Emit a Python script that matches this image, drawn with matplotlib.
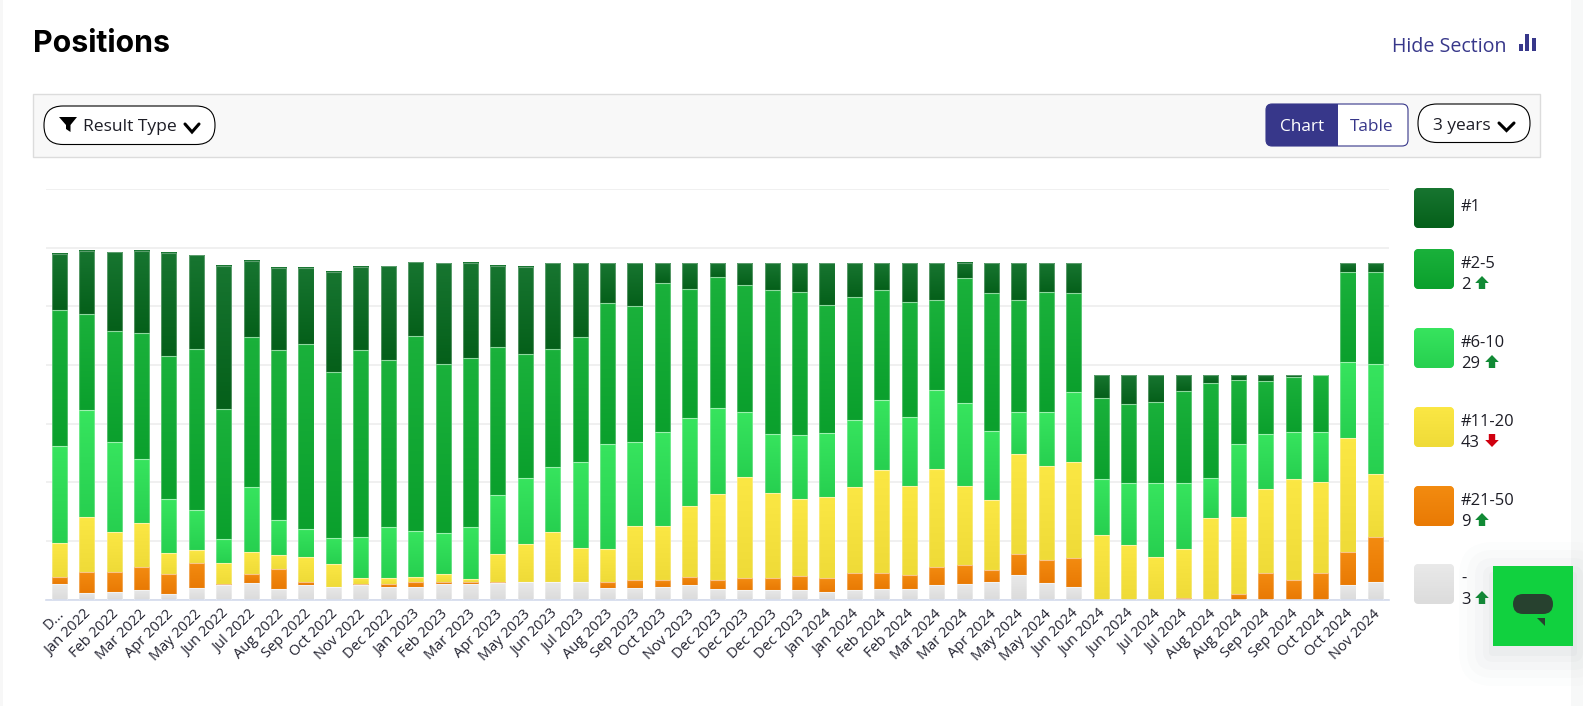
import matplotlib
matplotlib.use('Agg')
import matplotlib.pyplot as plt
import numpy as np
from matplotlib.colors import LinearSegmentedColormap
from matplotlib.patches import FancyBboxPatch, Polygon, Rectangle
from matplotlib.transforms import ScaledTranslation

plt.rcParams['font.family'] = ['Open Sans', 'DejaVu Sans']

# Month labels under the bars
months = ['D...', 'Jan 2022', 'Feb 2022', 'Mar 2022', 'Apr 2022', 'May 2022', 'Jun 2022',
          'Jul 2022', 'Aug 2022', 'Sep 2022', 'Oct 2022', 'Nov 2022', 'Dec 2022',
          'Jan 2023', 'Feb 2023', 'Mar 2023', 'Apr 2023', 'May 2023', 'Jun 2023',
          'Jul 2023', 'Aug 2023', 'Sep 2023', 'Oct 2023', 'Nov 2023',
          'Dec 2023', 'Dec 2023', 'Dec 2023', 'Dec 2023',
          'Jan 2024', 'Jan 2024', 'Feb 2024', 'Feb 2024', 'Mar 2024', 'Mar 2024',
          'Apr 2024', 'May 2024', 'May 2024', 'Jun 2024', 'Jun 2024', 'Jun 2024',
          'Jul 2024', 'Jul 2024', 'Aug 2024', 'Aug 2024', 'Sep 2024', 'Sep 2024',
          'Oct 2024', 'Oct 2024', 'Nov 2024']

# Series values, bottom of the stack first
none_ranked = [2.6, 1.1, 1.3, 1.7, 0.9, 2.0, 2.4, 2.8, 1.8, 2.4, 2.1, 2.4, 2.1,
               2.1, 2.6, 2.6, 2.8, 3.0, 3.0, 3.0, 2.0, 2.0, 2.2, 2.4, 1.8, 1.6, 1.6, 1.6,
               1.3, 1.6, 1.8, 1.8, 2.4, 2.7, 3.0, 4.1, 2.8, 2.2,
               0, 0, 0, 0, 0, 0, 0, 0, 0, 2.4, 3.0]
pos_21_50 = [1.2, 3.6, 3.4, 3.8, 3.5, 4.2, 0.3, 1.5, 3.4, 0.6, 0, 0.3, 0.5,
             0.9, 0.4, 0.4, 0.2, 0, 0, 0, 1.0, 1.3, 1.1, 1.4, 1.6, 2.0, 2.0, 2.4,
             2.3, 2.9, 2.7, 2.4, 3.1, 3.1, 2.1, 3.6, 4.0, 4.9,
             0, 0, 0, 0.3, 0, 0.9, 4.5, 3.4, 4.5, 5.7, 7.7]
pos_11_20 = [5.8, 9.4, 6.8, 7.5, 3.6, 2.2, 3.6, 3.8, 2.4, 4.3, 3.9, 1.0, 1.0,
             0.9, 1.3, 0.5, 4.7, 6.4, 8.5, 5.8, 5.6, 9.2, 9.2, 12.2, 14.6, 17.3, 14.6, 13.1,
             13.9, 14.6, 17.6, 15.2, 16.7, 13.5, 11.8, 17.1, 16.0, 16.4,
             11.0, 9.3, 7.3, 8.3, 13.9, 13.1, 14.4, 17.2, 15.6, 19.4, 10.7]
pos_6_10 = [16.5, 18.2, 15.3, 10.9, 9.2, 6.8, 4.1, 11.1, 6.0, 4.8, 4.5, 7.0, 8.7,
            7.7, 7.0, 8.9, 10.2, 11.3, 11.1, 14.7, 17.9, 14.3, 16.0, 14.9, 14.7, 11.1, 10.1, 10.9,
            10.9, 11.5, 11.9, 11.7, 13.6, 14.2, 11.9, 7.2, 9.2, 11.9,
            9.6, 10.5, 12.6, 11.3, 6.8, 12.6, 9.4, 8.0, 8.5, 13.0, 18.8]
pos_2_5 = [23.2, 16.4, 19.0, 21.5, 24.3, 27.6, 22.0, 25.6, 29.0, 31.4, 28.3, 31.8, 28.6,
           33.3, 28.8, 28.8, 25.1, 21.1, 20.2, 21.3, 24.0, 23.2, 25.5, 22.1, 22.3, 21.7, 24.5, 24.4,
           21.9, 21.0, 18.8, 19.6, 15.3, 21.3, 23.4, 19.0, 20.5, 16.8,
           13.8, 13.6, 13.8, 15.7, 16.2, 10.9, 8.9, 9.4, 9.6, 15.3, 15.7]
pos_1 = [9.7, 10.8, 13.4, 14.1, 17.6, 16.0, 24.4, 13.0, 14.0, 13.1, 17.1, 14.2, 16.0,
         12.6, 17.2, 16.2, 13.9, 14.9, 14.5, 12.5, 6.8, 7.3, 3.3, 4.3, 2.3, 3.6, 4.5, 4.9,
         7.0, 5.7, 4.5, 6.6, 6.2, 2.6, 5.1, 6.3, 4.8, 5.1,
         3.8, 4.8, 4.5, 2.6, 1.3, 0.7, 1.0, 0.2, 0, 1.5, 1.4]

y_ticks = [0, 10, 20, 30, 40, 50, 60, 70]

legend_names = ['#1', '#2-5', '#6-10', '#11-20', '#21-50', '-']
legend_counts = ['', '2', '29', '43', '9', '3']
legend_trend = ['', 'up', 'up', 'down', 'up', 'up']

stack = [none_ranked, pos_21_50, pos_11_20, pos_6_10, pos_2_5, pos_1]
# top / bottom colour of each series gradient
ramps = [('#e9e9e9', '#dcdcdc'), ('#f38b10', '#e97a04'), ('#fbe744', '#efdb38'),
         ('#37e45e', '#27d050'), ('#1ab13b', '#0ba02d'), ('#177530', '#05601a')]

W, H = 1583, 706
navy = '#37378a'
ink = '#1d1d26'

fig = plt.figure(figsize=(W / 100, H / 100), dpi=100, facecolor='white')

# Page furniture lives on a full size axes in pixel coordinates
ui = fig.add_axes([0, 0, 1, 1], zorder=0)
ui.set_xlim(0, W)
ui.set_ylim(H, 0)
ui.axis('off')


def box(x0, y0, x1, y1, r=0, **kw):
    kw.setdefault('linewidth', 0)
    p = FancyBboxPatch((x0, y0), x1 - x0, y1 - y0, boxstyle=f'round,pad=0,rounding_size={r}', **kw)
    ui.add_patch(p)
    return p


def chevron(x0, x1, y0, y1):
    ui.plot([x0, (x0 + x1) / 2, x1], [y0, y1, y0], color='black', lw=2.2, solid_capstyle='round',
            solid_joinstyle='miter')


def arrow(cx, y0, y1, color):
    # y0 is the tip, y1 the tail end
    d = (y1 - y0) / 13
    pts = [(cx, y0), (cx + 6.8, y0 + 7 * d), (cx + 3.2, y0 + 7 * d), (cx + 3.2, y1),
           (cx - 3.2, y1), (cx - 3.2, y0 + 7 * d), (cx - 6.8, y0 + 7 * d)]
    ui.add_patch(Polygon(pts, closed=True, facecolor=color, edgecolor='none'))


ui.add_patch(Rectangle((0, 0), 3, H, facecolor='#f7f7f7', edgecolor='none'))
ui.add_patch(Rectangle((1571, 0), W - 1571, H, facecolor='#f7f8f8', edgecolor='none'))

ui.text(33, 44, 'Positions', fontsize=21.8, fontweight='bold', family=['Inter', 'DejaVu Sans'],
        color='black', va='center', ha='left')
ui.text(1392, 47, 'Hide Section', fontsize=14.1, color=navy, va='center', ha='left')
ui.add_patch(Rectangle((1519, 44), 4, 7, facecolor=navy))
ui.add_patch(Rectangle((1525.5, 34), 4, 17, facecolor=navy))
ui.add_patch(Rectangle((1532, 37.5), 4, 13.5, facecolor=navy))

# toolbar
ui.add_patch(Rectangle((33.5, 93.5), 1507, 63, facecolor='#f8f8f8', edgecolor='#dcdcdc', lw=1))
box(44, 106, 215, 144.5, r=19, facecolor='white', edgecolor='black', linewidth=0.8)
ui.add_patch(Polygon([(59, 117), (77, 117), (70.5, 125), (70.5, 132), (66, 129), (66, 125)],
                     closed=True, facecolor='black'))
ui.text(83, 127, 'Result Type', fontsize=12.6, color=ink, va='center', ha='left')
chevron(185, 199, 124, 132)

box(1266, 104, 1408, 146, r=6, facecolor='white', edgecolor=navy, linewidth=0.8)
box(1266, 104, 1338, 146, r=6, facecolor=navy)
ui.add_patch(Rectangle((1328, 104), 10, 42, facecolor=navy))
ui.text(1302, 127, 'Chart', fontsize=12.4, color='white', va='center', ha='center')
ui.text(1372, 127, 'Table', fontsize=12.4, color=navy, va='center', ha='center')
box(1418, 104, 1530, 142.5, r=19, facecolor='white', edgecolor='black', linewidth=0.8)
ui.text(1433, 126, '3 years', fontsize=12.4, color=ink, va='center', ha='left')
chevron(1499, 1514, 123, 130.5)

# legend
swatch_tops = [188, 249, 328, 407, 486, 564]
name_y = [207, 264, 343, 422, 501, 579]
for i, name in enumerate(legend_names):
    top_col, bot_col = ramps[len(ramps) - 1 - i]
    y0 = swatch_tops[i]
    patch = box(1414, y0, 1454, y0 + 40, r=5, facecolor=top_col)
    cmap = LinearSegmentedColormap.from_list('s', [top_col, bot_col])
    im = ui.imshow(np.linspace(0, 1, 40).reshape(-1, 1), cmap=cmap, aspect='auto',
                   extent=(1414, 1454, y0 + 40, y0), origin='upper', zorder=2)
    im.set_clip_path(patch)
    ui.text(1461, name_y[i], name, fontsize=11.9, color=ink, va='center', ha='left')
    if legend_counts[i]:
        ui.text(1461, name_y[i] + 21, legend_counts[i], fontsize=11.9, color=ink, va='center', ha='left')
        cx = 1482 if len(legend_counts[i]) == 1 else 1492
        if legend_trend[i] == 'up':
            arrow(cx, name_y[i] + 12, name_y[i] + 25, '#118a35')
        else:
            arrow(cx, name_y[i] + 25, name_y[i] + 12, '#d0000f')
ui.set_xlim(0, W)
ui.set_ylim(H, 0)

# chat button with its soft shadow
for grow, a in zip([34, 26, 18, 10, 4], [0.012, 0.015, 0.02, 0.025, 0.03]):
    box(1493 - grow, 566 - grow + 10, 1573 + grow, 646 + grow + 6, r=grow, facecolor='#506070', alpha=a, zorder=5)
ui.add_patch(Rectangle((1493, 566), 80, 80, facecolor='#11d13f', zorder=6))
box(1513, 594, 1553, 614, r=10, facecolor='#27412f', zorder=7)
ui.add_patch(Polygon([(1537, 618), (1545, 618), (1545, 626)], closed=True, facecolor='#27412f', zorder=7))

# The chart itself
ax = fig.add_axes([45.5 / W, 1 - 599.5 / H, 1343.6 / W, 410.5 / H], zorder=1)
ax.patch.set_alpha(0)
x = np.arange(len(months))
bottom = np.zeros(len(months))
for values, (top_col, bot_col) in zip(stack, ramps):
    bars = ax.bar(x, values, 0.55, bottom=bottom, color=top_col, zorder=2)
    cmap = LinearSegmentedColormap.from_list('g', [top_col, bot_col])
    for b in bars:
        if b.get_height() <= 0:
            continue
        ax.imshow(np.linspace(0, 1, 32).reshape(-1, 1), cmap=cmap, aspect='auto', origin='upper', zorder=3,
                  extent=(b.get_x(), b.get_x() + b.get_width(), b.get_y(), b.get_y() + b.get_height()))
    ax.bar(x, values, 0.55, bottom=bottom, fill=False, edgecolor=(1, 1, 1, 0.3), linewidth=0.8, zorder=4)
    bottom = bottom + np.array(values)

ax.set_xlim(-0.5, 48.5)
ax.set_ylim(0, 70)
ax.set_yticks(y_ticks)
ax.set_yticklabels([])
ax.grid(axis='y', color='#eeeeee', lw=1.2, zorder=0)
ax.set_axisbelow(True)
ax.set_xticks(x)
ax.set_xticklabels(months, rotation=45, ha='right', va='top', rotation_mode='anchor', fontsize=10.5, color='#222230')
ax.tick_params(axis='both', length=0)
ax.tick_params(axis='x', pad=5)
shift = ScaledTranslation(-2 / 72, 0, fig.dpi_scale_trans)
for lab in ax.get_xticklabels():
    lab.set_transform(lab.get_transform() + shift)
for s in ['top', 'right', 'left']:
    ax.spines[s].set_visible(False)
ax.spines['bottom'].set_color('#d3daec')
ax.spines['bottom'].set_linewidth(1.2)

fig.savefig('out.png', dpi=100)
